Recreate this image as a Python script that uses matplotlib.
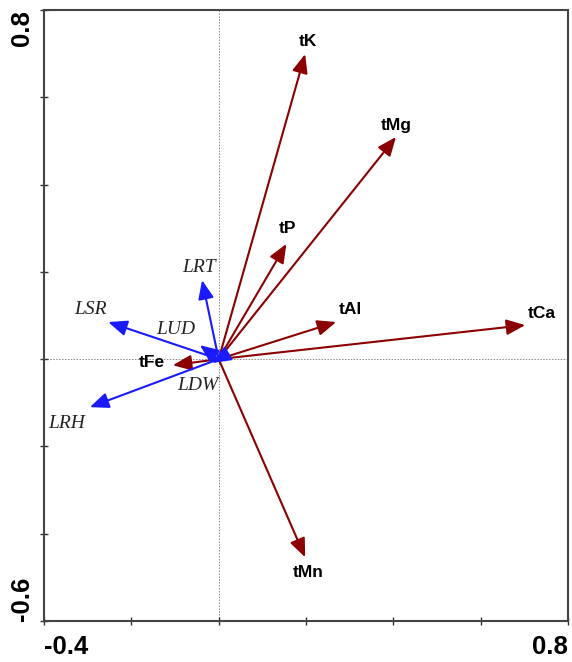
import matplotlib.pyplot as plt

# soil / nutrient variables (dark red) and leaf traits (blue), biplot scores
soil_names = ['tK', 'tMg', 'tP', 'tAl', 'tCa', 'tMn', 'tFe']
soil_x = [0.198, 0.406, 0.155, 0.269, 0.702, 0.198, -0.105]
soil_y = [0.699, 0.509, 0.264, 0.085, 0.078, -0.454, -0.014]

trait_names = ['LRT', 'LSR', 'LUD', 'LDW', 'LRH']
trait_x = [-0.038, -0.253, -0.043, -0.015, -0.295]
trait_y = [0.181, 0.085, 0.032, -0.009, -0.110]

# label offsets from arrow tips (points)
soil_off = [(2, 9), (0, 8), (1, 11), (10, 9), (12, 8), (2, -11), (-15, 2)]
trait_off = [(-2, 9), (-13, 9), (-17, 11), (-10, -16), (-17, -12)]

red = '#8b0000'
blue = '#1a1aff'

fig = plt.figure(figsize=(5.72, 6.62), dpi=100)
ax = fig.add_axes([44 / 572, 41 / 662, 524 / 572, 611 / 662])
ax.set_xlim(-0.4, 0.8)
ax.set_ylim(-0.6, 0.8)

ax.axvline(0, color='#888888', lw=0.7, ls=(0, (1.5, 1.5)), zorder=0)
ax.axhline(0, color='#888888', lw=0.7, ls=(0, (1.5, 1.5)), zorder=0)

style = '-|>,head_length=0.6,head_width=0.25'
for name, x, y, off in zip(soil_names, soil_x, soil_y, soil_off):
    ax.annotate('', xy=(x, y), xytext=(0, 0),
                arrowprops=dict(arrowstyle=style, color=red, lw=1.5,
                                mutation_scale=19, shrinkA=0, shrinkB=0))
    ax.annotate(name, xy=(x, y), xytext=off, textcoords='offset points',
                ha='center', va='center', fontsize=12.5, fontweight='bold',
                family='Liberation Sans')

for name, x, y, off in zip(trait_names, trait_x, trait_y, trait_off):
    ax.annotate('', xy=(x, y), xytext=(0, 0),
                arrowprops=dict(arrowstyle=style, color=blue, lw=1.5,
                                mutation_scale=19, shrinkA=0, shrinkB=0))
    ax.annotate(name, xy=(x, y), xytext=off, textcoords='offset points',
                ha='center', va='center', fontsize=14, style='italic',
                family='Liberation Serif', color='#222222')

ticks_x = [-0.4, -0.2, 0.0, 0.2, 0.4, 0.6, 0.8]
ticks_y = [-0.6, -0.4, -0.2, 0.0, 0.2, 0.4, 0.6, 0.8]
ax.set_xticks(ticks_x, ['-0.4', '', '', '', '', '', '0.8'])
ax.set_yticks(ticks_y, ['-0.6', '', '', '', '', '', '', '0.8'])
ax.tick_params(direction='inout', length=6, width=1, color='#333333')
ax.tick_params(axis='x', pad=7)
ax.tick_params(axis='y', pad=4)

for lab in ax.get_xticklabels():
    lab.set_fontsize(18.5)
    lab.set_fontweight('bold')
    lab.set_family('Liberation Sans')
xl = ax.get_xticklabels()
xl[0].set_ha('left')
xl[-1].set_ha('right')

for lab in ax.get_yticklabels():
    lab.set_fontsize(18.5)
    lab.set_fontweight('bold')
    lab.set_family('Liberation Sans')
    lab.set_rotation(90)
yl = ax.get_yticklabels()
yl[0].set_va('bottom')
yl[-1].set_va('top')

for sp in ax.spines.values():
    sp.set_color('#444444')
    sp.set_linewidth(1.5)

fig.savefig('out.png', dpi=100)
